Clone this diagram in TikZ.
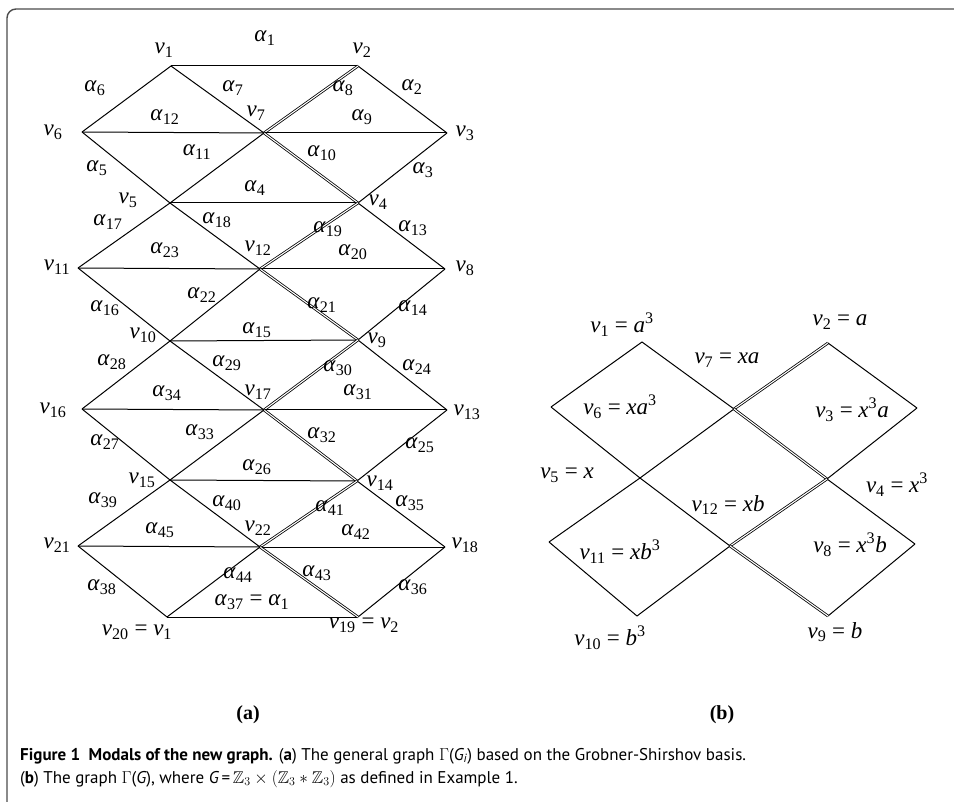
\documentclass[tikz,border=0pt]{standalone}
\usepackage{amssymb}
\usepackage{fontspec}
\setmainfont{Liberation Serif}
\newfontfamily\capfont{PT Sans}
\usetikzlibrary{positioning}
\newcommand{\vx}[1]{\textit{v}\textsubscript{#1}}
\newcommand{\al}[1]{\textit{α}\textsubscript{#1}}
\tikzset{
vtx/.style={inner sep=0pt, outer sep=0pt, minimum size=0pt}, % a vertex is only a point
lbl/.style={inner sep=0pt, font=\fontsize{23}{27}\selectfont}, % names of vertices and arcs
dbl/.style={double, double distance=1.1pt, line width=0.8pt}, % the doubled arcs
every edge/.style={draw, line width=1pt}, % plain arcs
}
\begin{document}
\begin{tikzpicture}[x=1pt, y=-1pt]
                \useasboundingbox (0,0) rectangle (954,802);
                \draw[black!70, line width=1.4pt, rounded corners=9pt] (954,9) -- (7,9) -- (7,802);
                % (a) the general graph
                \node[vtx] (v1) at (171,66) {};
                \node[vtx] (v2) at (358,66) {};
                \node[vtx] (v6) at (82,132) {};
                \node[vtx] (v7) at (264,133) {};
                \node[vtx] (v3) at (447,133) {};
                \node[vtx] (v5) at (170,203) {};
                \node[vtx] (v4) at (358,203) {};
                \node[vtx] (v11) at (78,268) {};
                \node[vtx] (v12) at (260,269) {};
                \node[vtx] (v8) at (445,269) {};
                \node[vtx] (v10) at (170,341) {};
                \node[vtx] (v9) at (358,340) {};
                \node[vtx] (v16) at (82,409) {};
                \node[vtx] (v17) at (264,410) {};
                \node[vtx] (v13) at (447,410) {};
                \node[vtx] (v15) at (170,480) {};
                \node[vtx] (v14) at (357,481) {};
                \node[vtx] (v21) at (78,546) {};
                \node[vtx] (v22) at (260,547) {};
                \node[vtx] (v18) at (445,547) {};
                \node[vtx] (v20) at (167,617) {};
                \node[vtx] (v19) at (358,617) {};
                \draw
                    (v1) edge (v2) (v2) edge (v3) (v3) edge (v4) (v4) edge (v5) (v5) edge (v6) (v6) edge (v1)
                    (v1) edge (v7) (v2) edge[dbl] (v7) (v3) edge (v7) (v4) edge[dbl] (v7) (v5) edge (v7) (v6) edge (v7)
                    ;
                \draw
                    (v4) edge (v8) (v8) edge (v9) (v9) edge (v10) (v10) edge (v11) (v11) edge (v5)
                    (v5) edge (v12) (v4) edge[dbl] (v12) (v8) edge (v12) (v9) edge[dbl] (v12) (v10) edge (v12) (v11) edge (v12)
                    ;
                \draw
                    (v9) edge (v13) (v13) edge (v14) (v14) edge (v15) (v15) edge (v16) (v16) edge (v10)
                    (v10) edge (v17) (v9) edge[dbl] (v17) (v13) edge (v17) (v14) edge[dbl] (v17) (v15) edge (v17) (v16) edge (v17)
                    ;
                \draw
                    (v14) edge (v18) (v18) edge (v19) (v19) edge (v20) (v20) edge (v21) (v21) edge (v15)
                    (v15) edge (v22) (v14) edge[dbl] (v22) (v18) edge (v22) (v19) edge[dbl] (v22) (v20) edge (v22) (v21) edge (v22)
                    ;
                % vertex names
                \node[lbl] (n1) at (164,50) {\vx{1}};
                \node[lbl] (n2) at (362,50) {\vx{2}};
                \node[lbl] (n6) at (53,132) {\vx{6}};
                \node[lbl] (n7) at (256,113) {\vx{7}};
                \node[lbl] (n3) at (465,133) {\vx{3}};
                \node[lbl] (n5) at (128,200) {\vx{5}};
                \node[lbl] (n4) at (378,202) {\vx{4}};
                \node[lbl] (n11) at (57,267) {\vx{11}};
                \node[lbl] (n12) at (258,248) {\vx{12}};
                \node[lbl] (n8) at (465,268) {\vx{8}};
                \node[lbl] (n10) at (143,335) {\vx{10}};
                \node[lbl] (n9) at (377,340) {\vx{9}};
                \node[lbl] (n16) at (53,410) {\vx{16}};
                \node[lbl] (n17) at (258,392) {\vx{17}};
                \node[lbl] (n13) at (467,412) {\vx{13}};
                \node[lbl] (n15) at (142,480) {\vx{15}};
                \node[lbl] (n14) at (380,483) {\vx{14}};
                \node[lbl] (n21) at (57,545) {\vx{21}};
                \node[lbl] (n22) at (258,528) {\vx{22}};
                \node[lbl] (n18) at (465,545) {\vx{18}};
                \node[lbl] (n20) at (137,632) {\vx{20} = \vx{1}};
                \node[lbl] (n19) at (364,625) {\vx{19} = \vx{2}};
                % arc names
                \node[lbl] (a1) at (265,38) {\al{1}};
                \node[lbl] (a2) at (412,87) {\al{2}};
                \node[lbl] (a3) at (423,170) {\al{3}};
                \node[lbl] (a4) at (255,188) {\al{4}};
                \node[lbl] (a5) at (97,168) {\al{5}};
                \node[lbl] (a6) at (95,88) {\al{6}};
                \node[lbl] (a7) at (233,88) {\al{7}};
                \node[lbl] (a8) at (343,88) {\al{8}};
                \node[lbl] (a9) at (362,117) {\al{9}};
                \node[lbl] (a10) at (322,153) {\al{10}};
                \node[lbl] (a11) at (197,152) {\al{11}};
                \node[lbl] (a12) at (165,117) {\al{12}};
                \node[lbl] (a13) at (413,228) {\al{13}};
                \node[lbl] (a14) at (413,308) {\al{14}};
                \node[lbl] (a15) at (257,330) {\al{15}};
                \node[lbl] (a16) at (105,308) {\al{16}};
                \node[lbl] (a17) at (108,222) {\al{17}};
                \node[lbl] (a18) at (217,220) {\al{18}};
                \node[lbl] (a19) at (328,229) {\al{19}};
                \node[lbl] (a20) at (353,252) {\al{20}};
                \node[lbl] (a21) at (322,305) {\al{21}};
                \node[lbl] (a22) at (202,295) {\al{22}};
                \node[lbl] (a23) at (165,250) {\al{23}};
                \node[lbl] (a24) at (417,367) {\al{24}};
                \node[lbl] (a25) at (420,445) {\al{25}};
                \node[lbl] (a26) at (257,467) {\al{26}};
                \node[lbl] (a27) at (105,442) {\al{27}};
                \node[lbl] (a28) at (112,362) {\al{28}};
                \node[lbl] (a29) at (227,363) {\al{29}};
                \node[lbl] (a30) at (338,368) {\al{30}};
                \node[lbl] (a31) at (358,392) {\al{31}};
                \node[lbl] (a32) at (322,435) {\al{32}};
                \node[lbl] (a33) at (200,432) {\al{33}};
                \node[lbl] (a34) at (167,393) {\al{34}};
                \node[lbl] (a35) at (410,503) {\al{35}};
                \node[lbl] (a36) at (413,587) {\al{36}};
                \node[lbl] (a37) at (252,602) {\al{37} = \al{1}};
                \node[lbl] (a38) at (102,587) {\al{38}};
                \node[lbl] (a39) at (103,500) {\al{39}};
                \node[lbl] (a40) at (227,503) {\al{40}};
                \node[lbl] (a41) at (330,508) {\al{41}};
                \node[lbl] (a42) at (356,532) {\al{42}};
                \node[lbl] (a43) at (317,573) {\al{43}};
                \node[lbl] (a44) at (238,575) {\al{44}};
                \node[lbl] (a45) at (160,530) {\al{45}};
                % (b) the graph of G
                \node[vtx] (w1) at (642,342) {};
                \node[vtx] (w2) at (828,343) {};
                \node[vtx] (w6) at (551,407) {};
                \node[vtx] (w7) at (734,409) {};
                \node[vtx] (w3) at (917,408) {};
                \node[vtx] (w5) at (640,478) {};
                \node[vtx] (w4) at (827,479) {};
                \node[vtx] (w11) at (549,542) {};
                \node[vtx] (w12) at (730,546) {};
                \node[vtx] (w8) at (915,544) {};
                \node[vtx] (w10) at (637,616) {};
                \node[vtx] (w9) at (828,616) {};
                \draw
                    (w1) edge (w6) (w6) edge (w5) (w5) edge (w12) (w12) edge (w10) (w10) edge (w11) (w11) edge (w5)
                    (w1) edge (w7) (w5) edge (w7) (w7) edge[dbl] (w2) (w7) edge[dbl] (w4)
                    (w2) edge (w3) (w3) edge (w4) (w4) edge (w8) (w8) edge (w9)
                    (w12) edge[dbl] (w4) (w12) edge[dbl] (w9)
                    ;
                \node[lbl] (m1) at (622,325) {\vx{1} = \textit{a}\textsuperscript{3}};
                \node[lbl] (m2) at (840,322) {\vx{2} = \textit{a}};
                \node[lbl] (m7) at (727,360) {\vx{7} = \textit{xa}};
                \node[lbl] (m6) at (620,407) {\vx{6} = \textit{xa}\textsuperscript{3}};
                \node[lbl] (m3) at (852,410) {\vx{3} = \textit{x}\textsuperscript{3}\textit{a}};
                \node[lbl] (m5) at (567,475) {\vx{5} = \textit{x}};
                \node[lbl] (m4) at (897,485) {\vx{4} = \textit{x}\textsuperscript{3}};
                \node[lbl] (m12) at (728,505) {\vx{12} = \textit{xb}};
                \node[lbl] (m11) at (620,552) {\vx{11} = \textit{xb}\textsuperscript{3}};
                \node[lbl] (m8) at (850,545) {\vx{8} = \textit{x}\textsuperscript{3}\textit{b}};
                \node[lbl] (m10) at (610,638) {\vx{10} = \textit{b}\textsuperscript{3}};
                \node[lbl] (m9) at (835,632) {\vx{9} = \textit{b}};
                % panel letters and caption
                \node[font=\fontsize{20}{24}\selectfont\bfseries] (pa) at (248,715) {(a)};
                \node[font=\fontsize{20}{24}\selectfont\bfseries] (pb) at (722,715) {(b)};
                \node[anchor=north west, align=left, inner sep=0pt, font=\capfont\fontsize{17}{23}\selectfont] (cap) at (20,748)
                    {\textbf{Figure 1\hspace{0.5em}Modals of the new graph.} (\textbf{a}) The general graph $\Gamma$({\itshape G\textsubscript{i}}) based on the Grobner-Shirshov basis.\\
                     (\textbf{b}) The graph $\Gamma$({\itshape G}), where {\itshape G}\,=\,$\mathbb{Z}_3\times(\mathbb{Z}_3\ast\mathbb{Z}_3)$ as defined in Example 1.};
            \end{tikzpicture}
\end{document}
